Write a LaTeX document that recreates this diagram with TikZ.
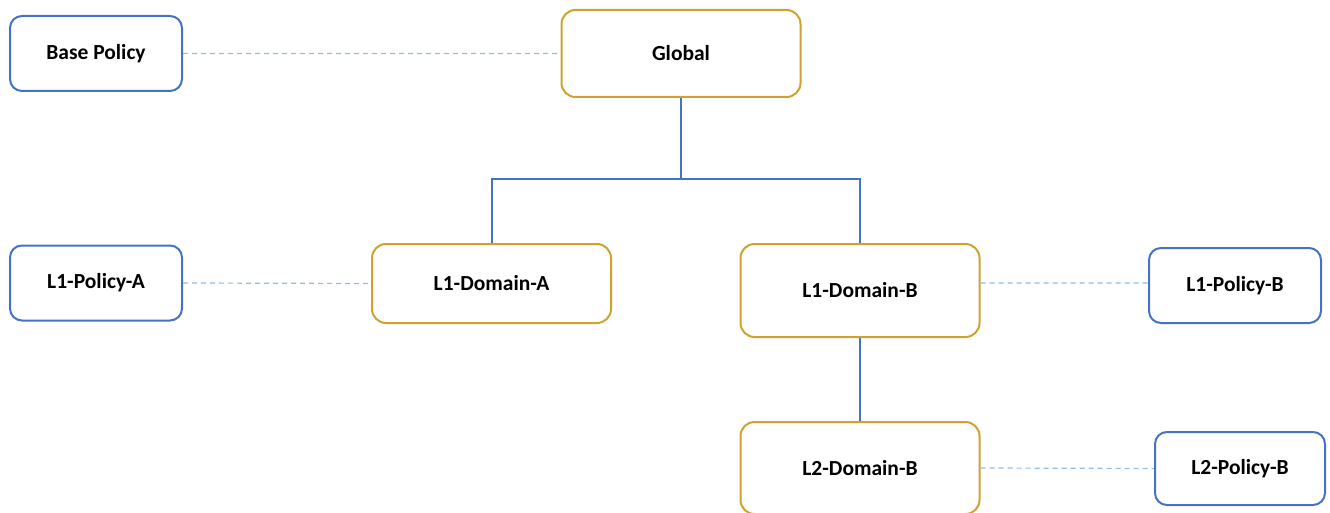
\documentclass[tikz,border=0pt]{standalone}
\usepackage{fontspec}
\setmainfont{Carlito}
\usetikzlibrary{positioning}

\definecolor{boxblue}{HTML}{4472C4}
\definecolor{boxgold}{HTML}{D0A22C}
\definecolor{dashblue}{HTML}{8DBCEA}

\begin{document}
\begin{tikzpicture}[x=1pt, y=-1pt, thick,
    every node/.style={font=\fontsize{21.5}{25}\selectfont\bfseries, inner sep=0pt},
    policy node/.style={rectangle, rounded corners=12pt, draw=boxblue, line width=2pt, minimum width=172pt, minimum height=75pt},
    domain node/.style={rectangle, rounded corners=14pt, draw=boxgold, line width=2pt, minimum width=239pt, minimum height=87pt},
    tree line/.style={draw=boxblue, line width=2pt},
    link line/.style={draw=dashblue, line width=1.2pt, dash pattern=on 5pt off 4pt}]

      \useasboundingbox (0,0) rectangle (1330,513);

      \node[policy node] (base) at (96,53.5) {Base Policy};
      \node[domain node] (global) at (681,53.5) {Global};
      \node[policy node] (polA) at (96,283) {L1-Policy-A};
      \node[domain node, minimum height=79pt] (domA) at (491.5,283.5) {L1-Domain-A};
      \node[domain node, minimum height=93pt] (domB) at (860,290.5) {L1-Domain-B};
      \node[policy node] (polB) at (1235,285.5) {L1-Policy-B};
      \node[domain node, minimum height=92pt] (dom2B) at (860,468) {L2-Domain-B};
      \node[policy node, minimum width=170pt, minimum height=73pt] (pol2B) at (1240,468.5) {L2-Policy-B};

      \coordinate (split) at (global.south |- 0,179);

      \path[tree line]
        (global.south) -- (split)
        (domA.north) |- (split) -| (domB.north)
        (domB.south) -- (dom2B.north);

      \path[link line]
        (base.east) -- (global.west)
        (polA.east) -- (domA.west)
        (domB.east |- polB.west) ++(0,-2.5) -- ([yshift=2.5pt]polB.west)
        (dom2B.east) -- (pol2B.west);

\end{tikzpicture}
\end{document}
